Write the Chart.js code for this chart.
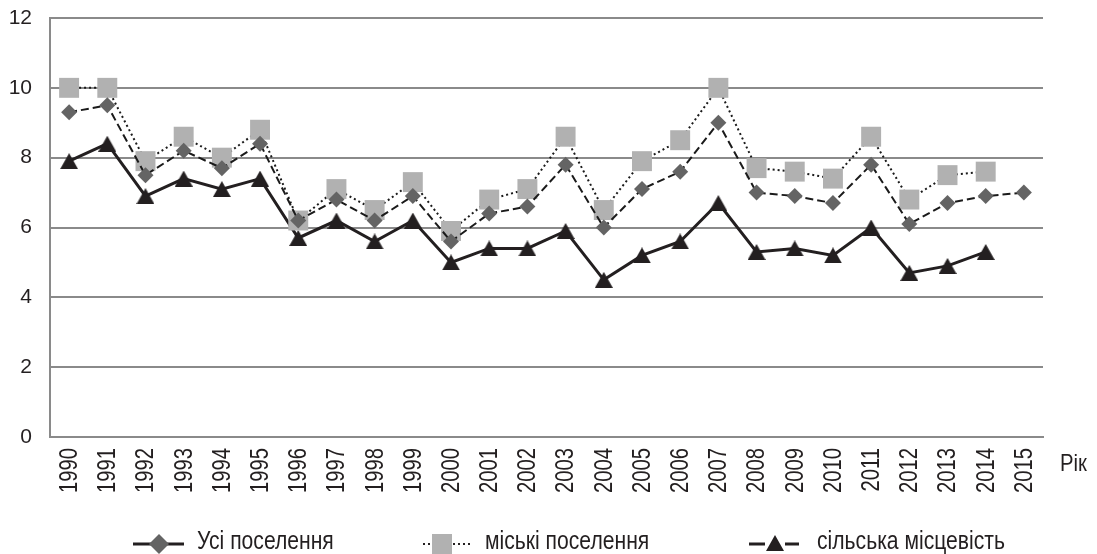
<!DOCTYPE html>
<html>
<head>
<meta charset="utf-8">
<script src="https://cdn.jsdelivr.net/npm/chart.js@4.4.1/dist/chart.umd.min.js"></script>
<style>
  html, body { margin: 0; padding: 0; background: #fff; }
  #wrap { width: 1097px; height: 554px; position: relative; }
</style>
</head>
<body>
<div id="wrap"><canvas id="chart"></canvas></div>
<script>
const years = ['1990', '1991', '1992', '1993', '1994', '1995', '1996', '1997', '1998', '1999', '2000', '2001', '2002',
  '2003', '2004', '2005', '2006', '2007', '2008', '2009', '2010', '2011', '2012', '2013', '2014', '2015'];
const allSettlements = [9.3, 9.5, 7.5, 8.2, 7.7, 8.4, 6.2, 6.8, 6.2, 6.9, 5.6, 6.4, 6.6,
  7.8, 6.0, 7.1, 7.6, 9.0, 7.0, 6.9, 6.7, 7.8, 6.1, 6.7, 6.9, 7.0];
const urban = [10.0, 10.0, 7.9, 8.6, 8.0, 8.8, 6.2, 7.1, 6.5, 7.3, 5.9, 6.8, 7.1,
  8.6, 6.5, 7.9, 8.5, 10.0, 7.7, 7.6, 7.4, 8.6, 6.8, 7.5, 7.6, null];
const rural = [7.9, 8.4, 6.9, 7.4, 7.1, 7.4, 5.7, 6.2, 5.6, 6.2, 5.0, 5.4, 5.4,
  5.9, 4.5, 5.2, 5.6, 6.7, 5.3, 5.4, 5.2, 6.0, 4.7, 4.9, 5.3, null];
const seriesNames = ['Усі поселення', 'міські поселення', 'сільська місцевість'];
const yTicks = [0, 2, 4, 6, 8, 10, 12];
const xTitle = 'Рік';

const font = "'Liberation Sans', Arial, sans-serif";
const ink = '#231f20';

// triangle marker centred on its bounding box (like Excel)
function triangleImg(w, h, color) {
  const c = document.createElement('canvas');
  c.width = w; c.height = h;
  const g = c.getContext('2d');
  g.fillStyle = color;
  g.beginPath();
  g.moveTo(w / 2, 0);
  g.lineTo(w, h);
  g.lineTo(0, h);
  g.closePath();
  g.fill();
  return c;
}
const tri = triangleImg(18, 16, ink);

// condensed text (the original uses a narrow face)
function narrowText(ctx, text, x, y, sx) {
  ctx.save();
  ctx.translate(x, y);
  ctx.scale(sx, 1);
  ctx.fillText(text, 0, 0);
  ctx.restore();
}

// year labels, axis title and legend drawn by hand
const extras = {
  id: 'extras',
  afterDraw(chart) {
    const ctx = chart.ctx;
    const area = chart.chartArea;
    const xs = chart.scales.x;
    ctx.save();
    ctx.fillStyle = ink;

    // rotated year labels
    ctx.font = '25px ' + font;
    ctx.textAlign = 'right';
    ctx.textBaseline = 'middle';
    years.forEach((yr, i) => {
      const x = xs.getPixelForTick(i);
      ctx.save();
      ctx.translate(x + 1, area.bottom + 11);
      ctx.rotate(-Math.PI / 2);
      ctx.scale(0.81, 1);
      ctx.fillText(yr, 0, 0);
      ctx.restore();
    });

    ctx.textAlign = 'left';
    ctx.font = '24px ' + font;
    narrowText(ctx, xTitle, area.right + 17, area.bottom + 27, 0.845);

    const ly = 544;
    ctx.font = '25px ' + font;
    // item 1
    ctx.strokeStyle = ink;
    ctx.lineWidth = 3;
    ctx.beginPath(); ctx.moveTo(133, ly); ctx.lineTo(184, ly); ctx.stroke();
    ctx.fillStyle = '#646464';
    ctx.beginPath();
    ctx.moveTo(159, ly - 10); ctx.lineTo(169, ly); ctx.lineTo(159, ly + 10); ctx.lineTo(149, ly);
    ctx.closePath(); ctx.fill();
    ctx.fillStyle = ink;
    narrowText(ctx, seriesNames[0], 197, ly - 2, 0.845);
    // item 2
    ctx.lineWidth = 2;
    ctx.setLineDash([2, 3]);
    ctx.beginPath(); ctx.moveTo(423, ly); ctx.lineTo(473, ly); ctx.stroke();
    ctx.setLineDash([]);
    ctx.fillStyle = '#b1b1b1';
    ctx.fillRect(432, ly - 10, 20, 20);
    ctx.fillStyle = ink;
    narrowText(ctx, seriesNames[1], 485, ly - 2, 0.845);
    // item 3
    ctx.lineWidth = 3;
    ctx.setLineDash([16, 6, 8, 6]);
    ctx.beginPath(); ctx.moveTo(749, ly); ctx.lineTo(799, ly); ctx.stroke();
    ctx.setLineDash([]);
    ctx.drawImage(tri, 766, ly - 9);
    narrowText(ctx, seriesNames[2], 817, ly - 2, 0.845);
    ctx.restore();
  }
};

const ctx = document.getElementById('chart').getContext('2d');
const chart = new Chart(ctx, {
  type: 'line',
  data: {
    labels: years,
    datasets: [
      {
        label: seriesNames[0],
        data: allSettlements,
        borderColor: '#1a1a1a',
        borderWidth: 2,
        borderDash: [8, 4],
        pointStyle: 'rectRot',
        pointRadius: 8,
        pointBackgroundColor: '#646464',
        pointBorderWidth: 0,
        tension: 0
      },
      {
        label: seriesNames[1],
        data: urban,
        borderColor: '#1a1a1a',
        borderWidth: 2,
        borderDash: [2, 3],
        pointStyle: 'rect',
        pointRadius: 14.1,
        pointBackgroundColor: '#b1b1b1',
        pointBorderWidth: 0,
        tension: 0
      },
      {
        label: seriesNames[2],
        data: rural,
        borderColor: ink,
        borderWidth: 3,
        pointStyle: tri,
        pointRadius: 9,
        pointBackgroundColor: ink,
        pointBorderWidth: 0,
        tension: 0
      }
    ]
  },
  options: {
    responsive: true,
    maintainAspectRatio: false,
    animation: false,
    events: [],
    layout: { padding: { top: 18, right: 54, bottom: 57, left: 0 } },
    plugins: {
      legend: { display: false },
      tooltip: { enabled: false }
    },
    scales: {
      x: {
        offset: true,
        grid: { display: false, drawTicks: false, offset: true },
        border: { display: true, color: '#8a8a8a', width: 2 },
        ticks: { display: false, autoSkip: false },
        afterFit(scale) { scale.height = 60; }
      },
      y: {
        min: 0,
        max: 12,
        afterBuildTicks(scale) { scale.ticks = yTicks.map(v => ({ value: v })); },
        grid: { color: '#8a8a8a', lineWidth: 2, drawTicks: false },
        border: { display: true, color: '#8a8a8a', width: 2 },
        ticks: {
          padding: 18,
          color: ink,
          font: { family: font, size: 21 }
        },
        afterFit(scale) {
          scale.width = 50;
          scale.paddingTop = 0;
          scale.paddingBottom = 0;
        }
      }
    }
  },
  plugins: [extras]
});
</script>
</body>
</html>
